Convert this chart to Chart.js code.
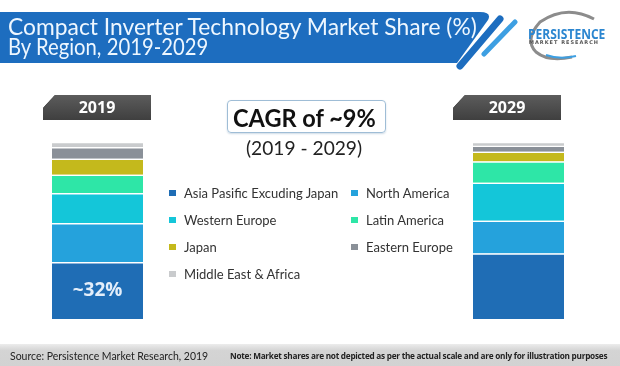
<!DOCTYPE html>
<html>
<head>
<meta charset="utf-8">
<script src="https://cdn.jsdelivr.net/npm/chart.js@4.4.1/dist/chart.umd.min.js"></script>
<style>
  body { margin: 0; width: 620px; height: 366px; overflow: hidden; background: #fff; position: relative; font-family: Lato, "Open Sans", sans-serif; }
  .abs { position: absolute; white-space: nowrap; transform-origin: 0 0; }
  #chartBox { position: absolute; left: 0; top: 0; width: 620px; height: 366px; }
  .title { color: #eef7ff; font-size: 24px; line-height: 24px; left: 8px; }
  .tab { position: absolute; top: 95px; width: 108px; height: 25px; background: linear-gradient(#5c5c5c, #3f3f3f);
         color: #fff; font: bold 16px "Open Sans", sans-serif; line-height: 25px; text-align: center;
         clip-path: polygon(12px 0, 100% 0, 100% 100%, 0 100%, 0 13px); box-shadow: 0 2px 2px #bbb; }
  #cagr { left: 227px; top: 100px; width: 157px; height: 31px; border: 1px solid #9fbdd6; border-radius: 4px;
          box-shadow: 0 1px 2px #cfdbe6; }
  .leg { font-size: 13px; color: #333; line-height: 16px; height: 16px; }
  .mk { position: absolute; width: 7px; height: 6px; }
  #foot { position: absolute; left: 0; top: 344px; width: 620px; height: 22px; background: linear-gradient(#ececec, #d4d4d4 30%, #d2d2d2); }
</style>
</head>
<body>
<div id="chartBox"><canvas id="shareChart"></canvas></div>

<svg class="abs" width="620" height="366" style="left:0;top:0">
  <path d="M0 12 H480 Q492 12 488 20 L457 63 H0 Z" fill="#1d6dbf"/>
  <line x1="460" y1="66" x2="500" y2="19" stroke="#1d6dbf" stroke-width="7" stroke-linecap="round"/>
  <line x1="484" y1="54" x2="515" y2="22" stroke="#3d9fe2" stroke-width="5" stroke-linecap="round"/>
  <path d="M594 19 Q566 4 540 22 Q524 40 536 52 Q548 62 572 57" fill="none" stroke="#8c8c8c" stroke-width="3"/>
  <path d="M546 55 Q560 60 576 56" fill="none" stroke="#3d9fe2" stroke-width="2"/>
  <polygon points="43,108 55,95 53,106" fill="#111"/>
  <polygon points="453,108 465,95 463,106" fill="#111"/>
  <line x1="220" y1="347" x2="220" y2="363" stroke="#f4f4f4" stroke-width="1"/>
</svg>

<div class="abs title" id="t1" style="top:14px">Compact Inverter Technology Market Share (%)</div>
<div class="abs title" id="t2" style="top:34px">By Region, 2019-2029</div>
<div class="abs" id="logo1" style="left:528px;top:26px;font:bold 15px 'Open Sans',sans-serif;color:#2b86d0;line-height:15px">PERSISTENCE</div>
<div class="abs" id="logo2" style="left:529px;top:40px;font:bold 5px 'DejaVu Sans',sans-serif;color:#555;line-height:5px;letter-spacing:1px">MARKET RESEARCH</div>

<div class="tab" style="left:43px">2019</div>
<div class="tab" style="left:453px">2029</div>

<div class="abs" id="cagr"></div>
<div class="abs" id="cagrText" style="left:233px;top:102px;font:bold 25px Lato,sans-serif;color:#111;line-height:30px">CAGR of ~9%</div>
<div class="abs" id="cagrYears" style="left:246px;top:137px;font:19px Lato,sans-serif;color:#222;line-height:22px">(2019 - 2029)</div>

<div id="legend"></div>

<div id="foot"></div>
<div class="abs" id="src" style="left:10px;top:348px;font:12px Lato,sans-serif;color:#222;line-height:15px">Source: Persistence Market Research, 2019</div>
<div class="abs" id="note" style="left:230px;top:349px;font:bold 9.5px 'Open Sans',sans-serif;color:#222;line-height:13px;letter-spacing:-0.3px">Note: Market shares are not depicted as per the actual scale and are only for illustration purposes</div>

<script>
const years = ['2019', '2029'];
const regions = ['Asia Pasific Excuding Japan', 'North America', 'Western Europe', 'Latin America', 'Japan', 'Eastern Europe', 'Middle East & Africa'];
const share2019 = [32, 22, 17, 10.5, 9, 6.5, 3];
const share2029 = [37, 18.5, 21.5, 12, 5.5, 3.3, 2.2];
const colors = ['#1f6db5', '#25a2dc', '#14c6d9', '#2ee6a7', '#c4b91c', '#8a9098', '#c9cbcd'];
const barLabel = '~32%';

// legend in two columns, same order as the stacks
const legendBox = document.getElementById('legend');
regions.forEach((name, i) => {
  const col = i % 2, row = Math.floor(i / 2);
  const x = col ? 351 : 169;
  const y = 185 + row * 27;
  const mk = document.createElement('div');
  mk.className = 'mk';
  mk.style.cssText = `left:${x}px;top:${y + 5}px;background:${colors[i]}`;
  legendBox.appendChild(mk);
  const t = document.createElement('div');
  t.className = 'abs leg';
  t.style.left = (x + 15) + 'px';
  t.style.top = y + 'px';
  t.textContent = name;
  legendBox.appendChild(t);
});

const labelPlugin = {
  id: 'barLabel',
  afterDatasetsDraw(chart) {
    const bar = chart.getDatasetMeta(0).data[0];
    const ctx = chart.ctx;
    ctx.save();
    ctx.fillStyle = '#e3eefa';
    ctx.font = 'bold 19px "Open Sans", sans-serif';
    ctx.textAlign = 'center';
    ctx.textBaseline = 'middle';
    ctx.fillText(barLabel, bar.x, (bar.y + bar.base) / 2);
    ctx.restore();
  }
};

new Chart(document.getElementById('shareChart'), {
  type: 'bar',
  data: {
    datasets: regions.map((name, i) => ({
      label: name,
      data: [{ x: 0, y: share2019[i] }, { x: 1, y: share2029[i] }],
      backgroundColor: colors[i],
      borderColor: '#ffffff',
      borderWidth: { top: 1.5, left: 0, right: 0, bottom: 0 },
      borderSkipped: false,
      barThickness: 91
    }))
  },
  options: {
    responsive: true,
    maintainAspectRatio: false,
    animation: false,
    events: [],
    layout: { padding: { top: 142, bottom: 47, left: 0, right: 0 } },
    scales: {
      x: { type: 'linear', stacked: true, display: false, offset: false, min: -0.2316, max: 1.2411 },
      y: { stacked: true, display: false, min: 0, max: 100 }
    },
    plugins: { legend: { display: false }, tooltip: { enabled: false } }
  },
  plugins: [labelPlugin]
});

function fit(id, w) {
  const el = document.getElementById(id);
  el.style.transform = 'none';
  el.style.transform = `scaleX(${w / el.offsetWidth})`;
}
function fitAll() {
  fit('t1', 469); fit('t2', 200);
  fit('logo1', 77); fit('logo2', 70);
  fit('cagrText', 143); fit('cagrYears', 116);
  fit('src', 198); fit('note', 377);
}
fitAll();
document.fonts.ready.then(fitAll);
</script>
</body>
</html>
